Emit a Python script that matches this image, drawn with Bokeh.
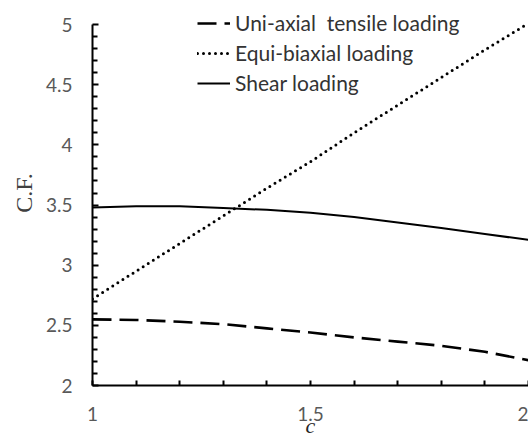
from bokeh.plotting import figure
from bokeh.models import (Range1d, FixedTicker, NumeralTickFormatter, Legend, LegendItem)
from bokeh.embed import file_html
from bokeh.resources import INLINE

# ---- data ----
c_vals = [1.0, 1.1, 1.2, 1.3, 1.4, 1.5, 1.6, 1.7, 1.8, 1.9, 2.0]
uniaxial = [2.55, 2.545, 2.53, 2.51, 2.475, 2.44, 2.40, 2.365, 2.33, 2.28, 2.21]
equibiaxial = [2.72, 2.95, 3.18, 3.41, 3.64, 3.86, 4.10, 4.33, 4.56, 4.79, 5.01]
shear = [3.48, 3.49, 3.49, 3.475, 3.46, 3.435, 3.40, 3.355, 3.31, 3.26, 3.21]

series_names = ["Uni-axial  tensile loading", "Equi-biaxial loading", "Shear loading"]

x_major_ticks = [1.0, 1.5, 2.0]
x_minor_ticks = [1.1, 1.2, 1.3, 1.4, 1.6, 1.7, 1.8, 1.9]
y_major_ticks = [2.0, 2.5, 3.0, 3.5, 4.0, 4.5, 5.0]
y_minor_ticks = [2.1, 2.2, 2.3, 2.4, 2.6, 2.7, 2.8, 2.9, 3.1, 3.2, 3.3, 3.4,
                 3.6, 3.7, 3.8, 3.9, 4.1, 4.2, 4.3, 4.4, 4.6, 4.7, 4.8, 4.9]
y_axis_bounds = (2, 5)
y_view = (2, 5.2)   # a little head-room above 5 so the legend fits in the frame

p = figure(width=528, height=443, output_backend="svg", toolbar_location=None,
           x_range=Range1d(1, 2), y_range=Range1d(*y_view),
           min_border_left=92, min_border_right=0, min_border_top=0, min_border_bottom=58)
p.outline_line_color = None
p.grid.visible = False
p.background_fill_color = "white"
p.border_fill_color = "white"

r_uni = p.line(c_vals, uniaxial, line_color="black", line_width=2.6, line_dash="19 8")
r_equi = p.line(c_vals, equibiaxial, line_color="black", line_width=3, line_dash="0 6",
                line_cap="round")
r_shear = p.line(c_vals, shear, line_color="black", line_width=2)

for ax in (p.xaxis[0], p.yaxis[0]):
    ax.axis_line_color = "black"
    ax.axis_line_width = 2
    ax.major_tick_line_color = "black"
    ax.major_tick_line_width = 2
    ax.minor_tick_line_color = "black"
    ax.minor_tick_line_width = 2
    ax.major_tick_in = 6
    ax.major_tick_out = 0
    ax.minor_tick_in = 5
    ax.minor_tick_out = 0
    ax.major_label_text_font = "Lato"
    ax.major_label_text_font_size = "19px"
    ax.major_label_text_color = "#595959"
    ax.formatter = NumeralTickFormatter(format="0.[0]")

p.xaxis[0].ticker = FixedTicker(ticks=x_major_ticks, minor_ticks=x_minor_ticks)
p.yaxis[0].ticker = FixedTicker(ticks=y_major_ticks, minor_ticks=y_minor_ticks)
p.yaxis[0].bounds = y_axis_bounds
p.xaxis[0].major_tick_in = 5

p.xaxis[0].major_label_standoff = 21
p.yaxis[0].major_label_standoff = 20

p.xaxis[0].axis_label = "c"
p.xaxis[0].axis_label_text_font = "Liberation Serif"
p.xaxis[0].axis_label_text_font_style = "italic"
p.xaxis[0].axis_label_text_font_size = "22px"
p.xaxis[0].axis_label_text_color = "#262626"
p.xaxis[0].axis_label_standoff = -11

p.yaxis[0].axis_label = "C.F."
p.yaxis[0].axis_label_text_font = "Liberation Serif"
p.yaxis[0].axis_label_text_font_style = "normal"
p.yaxis[0].axis_label_text_font_size = "24px"
p.yaxis[0].axis_label_text_color = "#404040"
p.yaxis[0].axis_label_standoff = 6

legend = Legend(items=[LegendItem(label=series_names[0], renderers=[r_uni]),
                       LegendItem(label=series_names[1], renderers=[r_equi]),
                       LegendItem(label=series_names[2], renderers=[r_shear])],
                location=(105, 290), orientation="vertical",
                glyph_width=33, glyph_height=20, label_height=20, spacing=5,
                label_standoff=5, padding=0, margin=0,
                label_text_font="Lato", label_text_font_size="21px",
                label_text_color="#333333",
                background_fill_alpha=0, border_line_alpha=0)
p.add_layout(legend, "center")

open("out.html", "w").write(file_html(p, INLINE))
